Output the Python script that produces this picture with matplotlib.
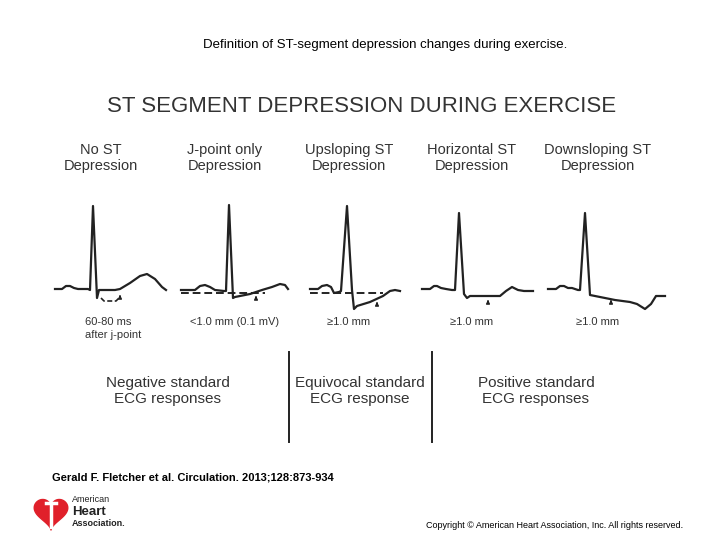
import numpy as np
import matplotlib.pyplot as plt
from matplotlib.patches import Polygon

# waveform traces (pixel coords of the original slide)
ecg1_x = [55, 62, 66, 70, 74, 78, 88, 90, 93, 97, 99, 105, 115, 120, 130, 140, 147, 155, 162, 166]
ecg1_y = [289, 289, 286, 286, 288, 289, 289, 290, 206, 298, 290, 290, 290, 289, 283, 276, 274, 279, 287, 290]
ecg2_x = [181, 195, 200, 205, 210, 215, 224, 226, 229, 233, 235, 250, 262, 272, 280, 285, 288]
ecg2_y = [290, 290, 286, 285, 287, 290, 291, 291, 205, 298, 297, 294, 290, 287, 284, 285, 289]
ecg3_x = [310, 318, 322, 327, 331, 334, 339, 341, 347, 352, 354, 357, 370, 383, 390, 395, 400]
ecg3_y = [289, 289, 286, 285, 287, 293, 292, 291, 206, 290, 309, 306, 302, 296, 291, 290, 291]
ecg4_x = [422, 430, 434, 437, 441, 446, 452, 455, 459, 464, 467, 470, 485, 500, 506, 512, 518, 524, 533]
ecg4_y = [289, 289, 286, 286, 288, 289, 290, 290, 213, 294, 298, 296, 296, 296, 291, 287, 290, 291, 291]
ecg5_x = [548, 556, 560, 564, 568, 572, 578, 580, 585, 590, 600, 615, 630, 637, 645, 651, 656, 665]
ecg5_y = [289, 289, 286, 286, 288, 288, 290, 290, 213, 295, 297, 300, 302, 304, 309, 304, 296, 296]
traces = [(ecg1_x, ecg1_y), (ecg2_x, ecg2_y), (ecg3_x, ecg3_y), (ecg4_x, ecg4_y), (ecg5_x, ecg5_y)]

col_x = [101, 225, 349, 472, 598]
col_titles = ['No ST\nDepression', 'J-point only\nDepression', 'Upsloping ST\nDepression',
              'Horizontal ST\nDepression', 'Downsloping ST\nDepression']
col_notes = ['', '<1.0 mm (0.1 mV)', '≥1.0 mm', '≥1.0 mm', '≥1.0 mm']
arrow_x = [120, 256, 377, 488, 611]
arrow_y = [300, 301, 307, 305, 305]
dashed = [(181, 265, 293), (310, 383, 293)]

resp_x = [168, 360, 536]
resp_text = ['Negative standard\nECG responses', 'Equivocal standard\nECG response',
             'Positive standard\nECG responses']

fig = plt.figure(figsize=(7.2, 5.4), dpi=100)
ax = fig.add_axes([0, 0, 1, 1])
ax.set_xlim(0, 720)
ax.set_ylim(540, 0)
ax.axis('off')

ink = '#222222'
ax.text(385, 45, 'Definition of ST-segment depression changes during exercise.',
        ha='center', va='center', fontsize=9.5, family='Liberation Sans')
ax.text(362, 106, 'ST SEGMENT DEPRESSION DURING EXERCISE', ha='center', va='center',
        fontsize=16, color='#333333', family='Liberation Sans')

for x, t in zip(col_x, col_titles):
    ax.text(x, 158, t, ha='center', va='center', fontsize=10.5, color='#333333',
            family='Liberation Sans', linespacing=1.2)

for xs, ys in traces:
    ax.plot(xs, ys, color=ink, lw=1.6, solid_joinstyle='round')
for x0, x1, y in dashed:
    ax.plot([x0, x1], [y, y], color=ink, lw=1.4, ls=(0, (4, 2)))
for x, y in zip(arrow_x, arrow_y):
    ax.annotate('', xy=(x, y - 8), xytext=(x, y),
                arrowprops=dict(arrowstyle='-|>', color=ink, lw=1, mutation_scale=5))
# bracket under first trace
ax.plot([101, 104, 116, 119], [298, 301, 301, 298], color=ink, lw=1.2, ls=(0, (3, 1.5)))

ax.text(85, 322, '60-80 ms', ha='left', va='center', fontsize=8, color='#333333', family='Liberation Sans')
ax.text(85, 335, 'after j-point', ha='left', va='center', fontsize=8, color='#333333', family='Liberation Sans')
for x, t in zip(col_x, col_notes):
    if t:
        ax.text(x + (10 if x == 225 else 0), 322, t, ha='center', va='center', fontsize=8,
                color='#333333', family='Liberation Sans')

for x in [289, 432]:
    ax.plot([x, x], [352, 442], color=ink, lw=1.4)
for x, t in zip(resp_x, resp_text):
    ax.text(x, 391, t, ha='center', va='center', fontsize=11, color='#333333',
            family='Liberation Sans', linespacing=1.1)

ax.text(52, 477, 'Gerald F. Fletcher et al. Circulation. 2013;128:873-934', ha='left', va='center',
        fontsize=8, fontweight='bold', family='Liberation Sans')
ax.text(426, 525, 'Copyright © American Heart Association, Inc. All rights reserved.',
        ha='left', va='center', fontsize=6.5, family='Liberation Sans')

# AHA logo (simplified heart + torch)
t = np.linspace(0, 2 * np.pi, 100)
hx = 16 * np.sin(t) ** 3
hy = 13 * np.cos(t) - 5 * np.cos(2 * t) - 2 * np.cos(3 * t) - np.cos(4 * t)
ax.add_patch(Polygon(np.column_stack([51 + hx * 1.05, 512 - hy * 1.05]), color='#e0202a'))
ax.plot([51, 51], [503, 527], color='white', lw=2.5)
ax.plot([46, 56], [503, 503], color='white', lw=2.5)
ax.text(72, 500, 'American', fontsize=6.5, color=ink, va='center', family='Liberation Sans')
ax.text(72, 512, 'Heart', fontsize=9.5, fontweight='bold', color=ink, va='center', family='Liberation Sans')
ax.text(72, 524, 'Association.', fontsize=6.5, fontweight='bold', color=ink, va='center', family='Liberation Sans')

fig.savefig('out.png', dpi=100)
